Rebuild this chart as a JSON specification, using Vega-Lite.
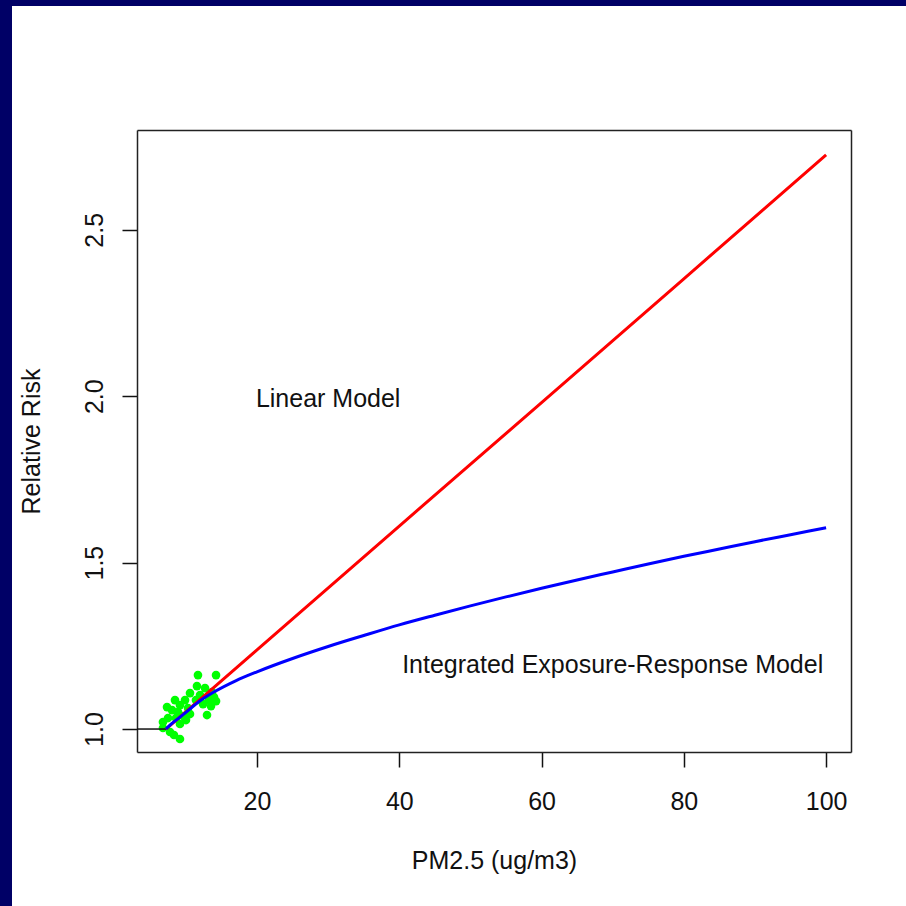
{
  "$schema": "https://vega.github.io/schema/vega-lite/v6.json",
  "width": 894,
  "height": 900,
  "autosize": {"type": "none"},
  "padding": {"left": 12, "top": 6, "right": 0, "bottom": 0},
  "background": "#000066",
  "config": {
    "view": {"fill": "white", "stroke": null},
    "font": "Liberation Sans",
    "axis": {
      "grid": false,
      "labelFont": "Liberation Sans",
      "labelFontSize": 25,
      "labelColor": "#111111",
      "titleFont": "Liberation Sans",
      "titleFontSize": 25,
      "titleFontWeight": "normal",
      "titleColor": "#111111",
      "tickColor": "#111111",
      "tickWidth": 1.5,
      "tickSize": 15,
      "domainColor": "#222222",
      "domainWidth": 1.5
    }
  },
  "datasets": {
    "curves": [
      {"pm": 3.13, "rr": 1.0, "model": "Reference"},
      {"pm": 7.2, "rr": 1.0, "model": "Reference"},
      {"pm": 7.2, "rr": 1.0, "model": "Linear"},
      {"pm": 20, "rr": 1.238, "model": "Linear"},
      {"pm": 40, "rr": 1.61, "model": "Linear"},
      {"pm": 60, "rr": 1.981, "model": "Linear"},
      {"pm": 80, "rr": 2.353, "model": "Linear"},
      {"pm": 100, "rr": 2.725, "model": "Linear"},
      {"pm": 7.2, "rr": 1.0, "model": "IER"},
      {"pm": 8, "rr": 1.016, "model": "IER"},
      {"pm": 9, "rr": 1.033, "model": "IER"},
      {"pm": 10, "rr": 1.05, "model": "IER"},
      {"pm": 12, "rr": 1.085, "model": "IER"},
      {"pm": 14, "rr": 1.112, "model": "IER"},
      {"pm": 17, "rr": 1.145, "model": "IER"},
      {"pm": 20, "rr": 1.172, "model": "IER"},
      {"pm": 25, "rr": 1.212, "model": "IER"},
      {"pm": 30, "rr": 1.248, "model": "IER"},
      {"pm": 35, "rr": 1.281, "model": "IER"},
      {"pm": 40, "rr": 1.313, "model": "IER"},
      {"pm": 45, "rr": 1.342, "model": "IER"},
      {"pm": 50, "rr": 1.37, "model": "IER"},
      {"pm": 55, "rr": 1.397, "model": "IER"},
      {"pm": 60, "rr": 1.423, "model": "IER"},
      {"pm": 65, "rr": 1.448, "model": "IER"},
      {"pm": 70, "rr": 1.472, "model": "IER"},
      {"pm": 75, "rr": 1.496, "model": "IER"},
      {"pm": 80, "rr": 1.519, "model": "IER"},
      {"pm": 85, "rr": 1.541, "model": "IER"},
      {"pm": 90, "rr": 1.563, "model": "IER"},
      {"pm": 95, "rr": 1.584, "model": "IER"},
      {"pm": 100, "rr": 1.605, "model": "IER"}
    ],
    "cities": [
      {"pm": 11.70, "rr": 1.162},
      {"pm": 14.24, "rr": 1.162},
      {"pm": 11.56, "rr": 1.129},
      {"pm": 12.69, "rr": 1.123},
      {"pm": 13.67, "rr": 1.111},
      {"pm": 11.99, "rr": 1.102},
      {"pm": 10.58, "rr": 1.108},
      {"pm": 13.25, "rr": 1.087},
      {"pm": 14.24, "rr": 1.084},
      {"pm": 12.41, "rr": 1.075},
      {"pm": 13.95, "rr": 1.096},
      {"pm": 11.42, "rr": 1.087},
      {"pm": 12.97, "rr": 1.042},
      {"pm": 13.53, "rr": 1.069},
      {"pm": 8.47, "rr": 1.087},
      {"pm": 9.88, "rr": 1.087},
      {"pm": 9.17, "rr": 1.072},
      {"pm": 7.35, "rr": 1.066},
      {"pm": 8.05, "rr": 1.057},
      {"pm": 8.89, "rr": 1.051},
      {"pm": 10.30, "rr": 1.063},
      {"pm": 9.60, "rr": 1.039},
      {"pm": 8.61, "rr": 1.033},
      {"pm": 7.49, "rr": 1.033},
      {"pm": 10.02, "rr": 1.027},
      {"pm": 6.78, "rr": 1.021},
      {"pm": 10.58, "rr": 1.045},
      {"pm": 9.17, "rr": 1.015},
      {"pm": 6.78, "rr": 1.003},
      {"pm": 7.77, "rr": 0.991},
      {"pm": 8.33, "rr": 0.982},
      {"pm": 9.17, "rr": 0.970}
    ],
    "notes": [
      {"pm": 30, "rr": 2.0, "label": "Linear Model"},
      {"pm": 70, "rr": 1.2, "label": "Integrated Exposure-Response Model"}
    ]
  },
  "resolve": {"axis": {"x": "independent", "y": "independent"}},
  "layer": [
    {
      "data": {"name": "cities"},
      "mark": {"type": "circle", "size": 75, "opacity": 1, "color": "#00ff00"},
      "encoding": {
        "x": {
          "field": "pm", "type": "quantitative",
          "scale": {"domain": [3.13, 103.5], "range": [125, 839], "zero": false, "nice": false},
          "axis": {"orient": "bottom", "offset": -154, "values": [20, 40, 60, 80, 100], "format": "d", "labelPadding": 22, "title": "PM2.5 (ug/m3)", "titlePadding": 34}
        },
        "y": {
          "field": "rr", "type": "quantitative",
          "scale": {"domain": [0.931, 2.8], "range": [746, 124], "zero": false, "nice": false},
          "axis": {"orient": "left", "offset": -125, "values": [1.0, 1.5, 2.0, 2.5], "format": ".1f", "labelAngle": 270, "labelAlign": "center", "labelBaseline": "alphabetic", "labelPadding": 20, "title": "Relative Risk", "titlePadding": 38}
        }
      }
    },
    {
      "data": {"name": "curves"},
      "transform": [{"filter": "datum.model === 'Reference'"}],
      "mark": {"type": "line", "color": "#111111", "strokeWidth": 1.5},
      "encoding": {
        "x": {"field": "pm", "type": "quantitative", "axis": null},
        "y": {"field": "rr", "type": "quantitative", "axis": null}
      }
    },
    {
      "data": {"name": "curves"},
      "transform": [{"filter": "datum.model === 'Linear'"}],
      "mark": {"type": "line", "color": "#ff0000", "strokeWidth": 3},
      "encoding": {
        "x": {"field": "pm", "type": "quantitative", "axis": null},
        "y": {"field": "rr", "type": "quantitative", "axis": null}
      }
    },
    {
      "data": {"name": "curves"},
      "transform": [{"filter": "datum.model === 'IER'"}],
      "mark": {"type": "line", "color": "#0000ff", "strokeWidth": 3, "interpolate": "monotone"},
      "encoding": {
        "x": {"field": "pm", "type": "quantitative", "axis": null},
        "y": {"field": "rr", "type": "quantitative", "axis": null}
      }
    },
    {
      "data": {"name": "notes"},
      "mark": {"type": "text", "font": "Liberation Sans", "fontSize": 25, "color": "#111111", "align": "center", "baseline": "middle", "dy": 3},
      "encoding": {
        "x": {
          "field": "pm", "type": "quantitative",
          "axis": {"orient": "top", "offset": -124, "labels": false, "ticks": false, "title": null, "domain": true}
        },
        "y": {
          "field": "rr", "type": "quantitative",
          "axis": {"orient": "right", "offset": -55, "labels": false, "ticks": false, "title": null, "domain": true}
        },
        "text": {"field": "label"}
      }
    }
  ]
}
